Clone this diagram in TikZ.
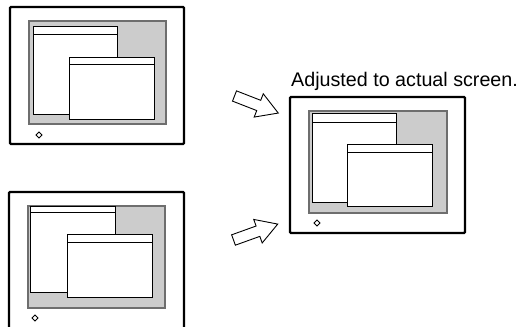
\documentclass[tikz,border=0pt]{standalone}
\usepackage{fontspec}
\setmainfont{Liberation Sans}
\definecolor{scr}{RGB}{204,204,204}
\definecolor{scredge}{RGB}{110,110,110}
\begin{document}
\begin{tikzpicture}[x=1pt,y=-1pt,
  frame/.style={line width=2.3pt,draw=black,rounded corners=1pt},
  screen/.style={fill=scr,draw=scredge,line width=1.3pt},
  win/.style={fill=white,draw=black,line width=0.9pt},
  bar/.style={draw=black,line width=0.9pt},
  knob/.style={draw=black,line width=0.8pt,fill=white},
  blockarrow/.style={draw=black,line width=0.9pt,fill=white,line join=miter}]
\useasboundingbox (0,0) rectangle (521,326);
% monitor 1 (top left)
\draw[frame] (10,7) rectangle (184,144);
\draw[screen] (29,21) rectangle (166,124);
\draw[win] (33,26) rectangle (117,114);
\draw[bar] (33,34) -- (117,34);
\draw[win] (69,57) rectangle (154,119);
\draw[bar] (69,64) -- (154,64);
\draw[knob] (36,135) -- (39,132) -- (42,135) -- (39,138) -- cycle;
% monitor 2 (bottom left, cut off)
\draw[frame] (9,327) -- (9,192) -- (184,192) -- (184,327);
\draw[screen] (28,206) rectangle (165,308);
\draw[win] (30,206) rectangle (115,292);
\draw[bar] (30,212) -- (115,212);
\draw[win] (67,234) rectangle (152,297);
\draw[bar] (67,242) -- (152,242);
\draw[knob] (32,318) -- (35,315) -- (38,318) -- (35,321) -- cycle;
% monitor 3 (right)
\node[anchor=base west,inner sep=0pt,font=\fontsize{19.7}{23}\selectfont] (caption) at (291,87) {Adjusted to actual screen.};
\draw[frame] (290,97) rectangle (465,233);
\draw[screen] (309,111) rectangle (447,213);
\draw[win] (312,113) rectangle (396,202);
\draw[bar] (312,122) -- (396,122);
\draw[win] (347,144) rectangle (432,206);
\draw[bar] (347,152) -- (432,152);
\draw[knob] (314,223) -- (317,220) -- (320,223) -- (317,226) -- cycle;
% block arrows
\begin{scope}[shift={(234.5,96)},rotate=-21.3]
\draw[blockarrow] (0,5.5) -- (26,5.5) -- (26,12.5) -- (47,0) -- (26,-12.5) -- (26,-5.5) -- (0,-5.5) -- cycle;
\end{scope}
\begin{scope}[shift={(233.5,240)},rotate=19.8]
\draw[blockarrow] (0,5.5) -- (26,5.5) -- (26,12.5) -- (47,0) -- (26,-12.5) -- (26,-5.5) -- (0,-5.5) -- cycle;
\end{scope}
\end{tikzpicture}
\end{document}
